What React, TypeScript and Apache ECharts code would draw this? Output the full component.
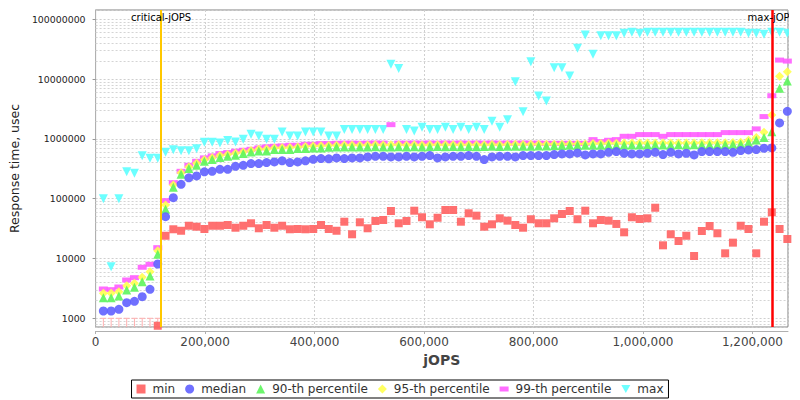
import React, { useEffect, useRef } from "react";
import * as echarts from "echarts";

// jOPS of each RT-curve step
const jops = [
  14200, 28400, 42600, 56800, 71000, 85200, 99400, 113600, 127800, 142000,
  156200, 170400, 184600, 198800, 213000, 227200, 241400, 255600, 269800, 284000,
  298200, 312400, 326600, 340800, 355000, 369200, 383400, 397600, 411800, 426000,
  440200, 454400, 468600, 482800, 497000, 511200, 525400, 539600, 553800, 568000,
  582200, 596400, 610600, 624800, 639000, 653200, 667400, 681600, 695800, 710000,
  724200, 738400, 752600, 766800, 781000, 795200, 809400, 823600, 837800, 852000,
  866200, 880400, 894600, 908800, 923000, 937200, 951400, 965600, 979800, 994000,
  1008200, 1022400, 1036600, 1050800, 1065000, 1079200, 1093400, 1107600, 1121800, 1136000,
  1150200, 1164400, 1178600, 1192800, 1207000, 1221200, 1235400, 1249600, 1263800,
];

const minRt = [
  null, null, null, null, null, null, null, 750, 24000, 30800,
  29100, 35300, 34000, 31100, 35300, 35300, 36300, 32700, 35300, 38800,
  32000, 36300, 32700, 35300, 30800, 31100, 30800, 31100, 36300, 31100,
  29100, 41200, 25400, 40300, 32000, 42400, 44000, 62200, 38800, 42400,
  63000, 48900, 37300, 48000, 64700, 64700, 41200, 57000, 52000, 34000,
  37300, 47000, 42900, 36300, 32700, 45300, 38800, 38800, 47000, 55400,
  62200, 45300, 63000, 38800, 44000, 42900, 37800, 27400, 48900, 45700,
  47000, 70600, 16600, 25400, 19600, 24000, 11000, 28800, 34900, 26400,
  12200, 18400, 35300, 31100, 12200, 41200, 59300, 31100, 21200,
];

// steps whose min is below the axis range
const minBelowAxis = [14200, 28400, 42600, 56800, 71000, 85200, 99400, 113600];

const medianRt = [
  1325, 1325, 1414, 1824, 1923, 2297, 3055, 8090, 50000, 104000,
  174000, 223000, 240000, 281000, 287000, 310000, 310000, 348000, 362000, 386000,
  386000, 402000, 412000, 429000, 402000, 412000, 429000, 456000, 469000, 465000,
  481000, 469000, 481000, 481000, 500000, 512000, 512000, 500000, 500000, 512000,
  500000, 512000, 526000, 481000, 500000, 512000, 512000, 526000, 512000, 451000,
  500000, 512000, 512000, 500000, 526000, 526000, 526000, 526000, 546000, 561000,
  561000, 583000, 540000, 561000, 561000, 597000, 613000, 575000, 561000, 561000,
  575000, 597000, 546000, 597000, 561000, 575000, 540000, 613000, 613000, 613000,
  613000, 597000, 637000, 655000, 662000, 697000, 707000, 1850000, 2890000,
];

const p90Rt = [
  2210, 2210, 2360, 2970, 3300, 4090, 5090, 11750, 66500, 155000,
  256000, 319000, 362000, 422000, 451000, 487000, 512000, 532000, 568000, 606000,
  630000, 630000, 662000, 662000, 662000, 689000, 689000, 707000, 707000, 724000,
  730000, 735000, 735000, 730000, 735000, 740000, 735000, 735000, 740000, 735000,
  740000, 735000, 740000, 745000, 740000, 745000, 740000, 745000, 740000, 745000,
  750000, 745000, 750000, 755000, 750000, 755000, 760000, 760000, 770000, 775000,
  780000, 780000, 785000, 780000, 785000, 790000, 785000, 790000, 790000, 790000,
  790000, 795000, 790000, 790000, 795000, 790000, 795000, 795000, 800000, 800000,
  805000, 810000, 820000, 877000, 962000, 1060000, 1320000, 7000000, 9300000,
];

const p95Rt = [
  2617, 2617, 2785, 3510, 3843, 4850, 6010, 13500, 78500, 170000,
  272000, 340000, 392000, 450000, 485000, 525000, 550000, 575000, 605000, 638000,
  668000, 680000, 705000, 712000, 720000, 735000, 748000, 758000, 770000, 778000,
  785000, 790000, 790000, 785000, 790000, 795000, 790000, 800000, 795000, 790000,
  795000, 790000, 795000, 800000, 795000, 800000, 795000, 800000, 795000, 800000,
  805000, 800000, 805000, 810000, 805000, 810000, 810000, 810000, 815000, 815000,
  820000, 820000, 820000, 840000, 840000, 845000, 845000, 850000, 850000, 855000,
  855000, 855000, 850000, 855000, 855000, 855000, 855000, 860000, 860000, 860000,
  865000, 870000, 880000, 950000, 1050000, 1290000, 2500000, 11200000, 13300000,
];

const p99Rt = [
  3090, 3010, 3335, 4365, 4775, 7130, 8000, 15170, 92700, 185000,
  287000, 362000, 422000, 481000, 520000, 568000, 590000, 621000, 645000, 670000,
  707000, 735000, 752000, 764000, 782000, 782000, 812000, 812000, 834000, 834000,
  845000, 850000, 850000, 845000, 850000, 855000, 850000, 1730000, 850000, 850000,
  855000, 850000, 855000, 850000, 855000, 850000, 855000, 850000, 855000, 850000,
  855000, 850000, 855000, 850000, 855000, 850000, 850000, 845000, 844000, 844000,
  844000, 844000, 844000, 973000, 901000, 948000, 973000, 1105000, 1105000, 1180000,
  1180000, 1180000, 1105000, 1180000, 1180000, 1180000, 1180000, 1180000, 1180000, 1180000,
  1274000, 1274000, 1274000, 1274000, 1470000, 2360000, 5270000, 20800000, 20000000,
];

const maxRt = [
  100000, 7300, 100000, 283000, 266000, 523000, 474000, 474000, 597000, 661000,
  636000, 636000, 686000, 877000, 877000, 853000, 937000, 885000, 985000, 1190000,
  1120000, 985000, 985000, 1310000, 1120000, 1120000, 1310000, 1310000, 1310000, 1120000,
  1120000, 1430000, 1430000, 1430000, 1430000, 1430000, 1430000, 17700000, 15100000, 1430000,
  1360000, 1560000, 1430000, 1430000, 1560000, 1430000, 1560000, 1430000, 1560000, 1430000,
  1970000, 1560000, 2090000, 9060000, 2850000, 19500000, 5200000, 4300000, 15500000, 15500000,
  11300000, 32700000, 54600000, 26000000, 53000000, 53000000, 53000000, 58300000, 60700000, 58300000,
  60700000, 60700000, 60700000, 60700000, 60700000, 60700000, 60700000, 60700000, 60700000, 60700000,
  60700000, 60700000, 60700000, 58300000, 58300000, 56000000, 60700000, 60700000, 58300000,
];

const criticalJops = 119800;
const maxJops = 1235400;
const refLabelY = 109000000;

const legendNames = ["min", "median", "90-th percentile", "95-th percentile", "99-th percentile", "max"];
const yTickLabels = ["1000", "10000", "100000", "1000000", "10000000", "100000000"];

const FONT = "DejaVu Sans";

function pairs(vals: (number | null)[]) {
  const out: [number, number][] = [];
  vals.forEach((v, i) => {
    if (v !== null && v !== undefined) out.push([jops[i], v]);
  });
  return out;
}

export default function App() {
  const ref = useRef<HTMLDivElement>(null);
  useEffect(() => {
    if (!ref.current) return;
    const chart = echarts.init(ref.current, undefined, { renderer: "svg" });

    // minor log grid lines (2..9 per decade)
    const minorLines: any[] = [];
    for (let e = 2; e <= 7; e++) {
      for (let d = 2; d <= 9; d++) {
        const v = d * Math.pow(10, e);
        if (v > 715 && v < 143000000) minorLines.push({ yAxis: v });
      }
    }

    const scatterBase = (name: string, vals: (number | null)[], symbol: string, size: any, color: string, extra: any = {}) => ({
      name,
      type: "scatter",
      data: pairs(vals),
      symbol,
      symbolSize: size,
      itemStyle: { color, opacity: 0.9 },
      emphasis: { disabled: true },
      ...extra,
    });

    const option: any = {
      animation: false,
      textStyle: { fontFamily: FONT },
      grid: {
        left: 94,
        right: 12,
        top: 10,
        bottom: 73,
        show: true,
        backgroundColor: "#ffffff",
        borderColor: "#808080",
        borderWidth: 1,
      },
      xAxis: {
        type: "value",
        min: 0,
        max: 1265000,
        interval: 200000,
        offset: 4,
        axisLine: { show: true, lineStyle: { color: "#b0b0b0" } },
        axisTick: { show: true, length: 3, lineStyle: { color: "#b0b0b0" } },
        axisLabel: {
          fontSize: 12,
          color: "#444",
          margin: 5,
          showMaxLabel: false,
          formatter: (v: number) => v.toLocaleString("en-US"),
        },
        splitLine: { show: true, lineStyle: { color: "#cfcfcf", type: [2, 2], width: 1 } },
        name: "jOPS",
        nameLocation: "middle",
        nameGap: 22,
        nameTextStyle: { fontSize: 14, fontWeight: "bold", color: "#444", fontFamily: FONT },
      },
      yAxis: {
        type: "log",
        logBase: 10,
        min: 715,
        max: 143000000,
        offset: 4,
        axisLine: { show: true, lineStyle: { color: "#b0b0b0" } },
        axisTick: { show: true, length: 3, lineStyle: { color: "#999" } },
        axisLabel: {
          fontSize: 9.4,
          color: "#222",
          margin: 6,
          showMinLabel: false,
          showMaxLabel: false,
          formatter: (v: number) => {
            const l = Math.log10(v);
            if (Math.abs(l - Math.round(l)) > 1e-6) return "";
            const idx = Math.round(l) - 3;
            return yTickLabels[idx] ?? "";
          },
        },
        splitLine: { show: true, lineStyle: { color: "#cfcfcf", type: [2, 2], width: 1 } },
        name: "Response time, usec",
        nameLocation: "middle",
        nameGap: 64,
        nameTextStyle: { fontSize: 12.5, color: "#222", fontFamily: FONT },
      },
      legend: {
        data: [
          { name: "min", icon: "rect" },
          { name: "median", icon: "circle" },
          { name: "90-th percentile", icon: "triangle" },
          { name: "95-th percentile", icon: "diamond" },
          { name: "99-th percentile", icon: "path://M0,0 L9,0 L9,5 L0,5 Z" },
          { name: "max", icon: "path://M0,0 L10,0 L5,9 Z" },
        ].filter((d) => legendNames.includes(d.name)),
        bottom: 2,
        left: "center",
        borderColor: "#000",
        borderWidth: 1,
        padding: [3, 5],
        itemGap: 10,
        itemWidth: 9,
        itemHeight: 9,
        textStyle: { fontSize: 12, color: "#333", fontFamily: FONT, padding: [0, 0, 0, 2] },
        selectedMode: false,
      },
      graphic: [
        {
          type: "rect",
          z: 100,
          shape: { x: 789, y: 0, width: 11, height: 40 },
          style: { fill: "#ffffff" },
        },
      ],
      series: [
        scatterBase("max", maxRt, "triangle", 9, "#5cffff", {
          symbolRotate: 180,
          markLine: {
            z: 1,
            silent: true,
            symbol: ["none", "none"],
            label: { show: false },
            lineStyle: { color: "#d4d4d4", type: [2, 2], width: 1 },
            data: minorLines,
          },
        }),
        scatterBase("99-th percentile", p99Rt, "rect", [9, 5], "#ff5cff"),
        scatterBase("95-th percentile", p95Rt, "diamond", 9, "#ffff50"),
        scatterBase("90-th percentile", p90Rt, "triangle", 9, "#5cf55c"),
        scatterBase("median", medianRt, "circle", 9, "#6060ff"),
        scatterBase("min", minRt, "rect", 8, "#ff6060", {
          markLine: {
            z: 5,
            silent: true,
            symbol: ["none", "none"],
            label: { show: false },
            data: [
              { xAxis: criticalJops, lineStyle: { color: "#ffc800", width: 2, type: "solid" } },
              { xAxis: maxJops, lineStyle: { color: "#ff0000", width: 2.5, type: "solid" } },
            ],
          },
          markPoint: {
            silent: true,
            symbol: "circle",
            symbolSize: 0,
            itemStyle: { color: "transparent" },
            label: { show: true, position: "inside", color: "#000", fontSize: 10, fontFamily: FONT },
            data: [
              { coord: [criticalJops, refLabelY], label: { formatter: "critical-jOPS" } },
              { coord: [maxJops, refLabelY], label: { formatter: "max-jOPS" } },
            ],
          },
        }),
        {
          name: "minBelow",
          type: "custom",
          silent: true,
          data: minBelowAxis.map((x) => [x, 1000]),
          encode: { x: 0, y: 1 },
          renderItem: (params: any, api: any) => {
            const p = api.coord([api.value(0), api.value(1)]);
            const bottom = params.coordSys.y + params.coordSys.height;
            const st = { stroke: "#ffb0b0", lineWidth: 1 };
            return {
              type: "group",
              children: [
                { type: "line", shape: { x1: p[0], y1: bottom, x2: p[0], y2: p[1] }, style: st },
                { type: "line", shape: { x1: p[0] - 3, y1: p[1], x2: p[0] + 3, y2: p[1] }, style: st },
              ],
            };
          },
        },
      ],
    };
    chart.setOption(option);
    return () => chart.dispose();
  }, []);
  return (
    <div
      ref={ref}
      style={{ position: "fixed", left: 0, top: 0, width: 800, height: 400, background: "#fff" }}
    />
  );
}
